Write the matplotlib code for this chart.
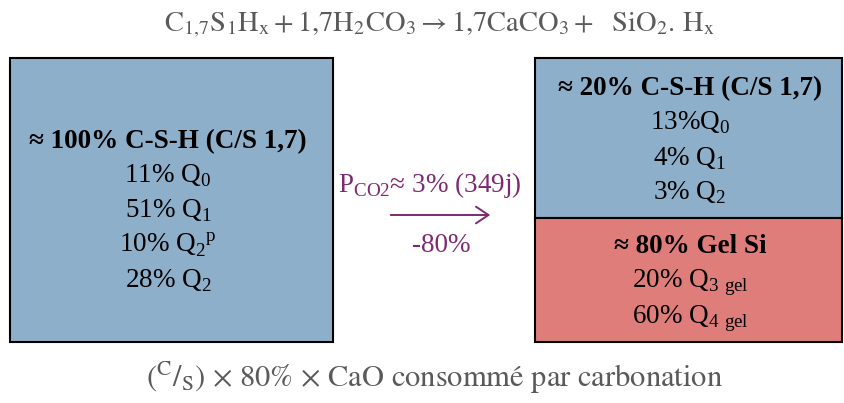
import matplotlib
matplotlib.use('Agg')
import matplotlib.pyplot as plt
from matplotlib.patches import Rectangle, FancyArrowPatch

plt.rcParams['mathtext.fontset'] = 'custom'
plt.rcParams['mathtext.rm'] = 'Liberation Serif'
plt.rcParams['mathtext.bf'] = 'Liberation Serif:bold'

# content
TOP_EQUATION = (r'$\mathrm{C_{1{,}7}S_1H_x + 1{,}7H_2CO_3 \rightarrow '
                r'1{,}7CaCO_3 +\ \ SiO_2.\,H_x}$')
BOTTOM_EQUATION = r'$\left(^{\mathrm{C}}/_{\mathrm{S}}\right)$ × 80% × CaO consommé par carbonation'

LEFT_TITLE = '≈ 100% C-S-H (C/S 1,7)'
LEFT_LINES = [r'11% Q$_0$', r'51% Q$_1$', r'10% Q$_2$$^\mathrm{p}$', r'28% Q$_2$']

RIGHT_TOP_TITLE = '≈ 20% C-S-H (C/S 1,7)'
RIGHT_TOP_LINES = [r'13%Q$_0$', r'4% Q$_1$', r'3% Q$_2$']

RIGHT_BOT_TITLE = '≈ 80% Gel Si'
RIGHT_BOT_LINES = [r'20% Q$_{\mathrm{3\ gel}}$', r'60% Q$_{\mathrm{4\ gel}}$']

ARROW_TOP = r'P$_{\mathrm{CO2}}$≈ 3% (349j)'
ARROW_BOTTOM = '-80%'

BLUE = '#8eafca'
RED = '#df7d7b'
PURPLE = '#7d2a72'
GREY = '#5a5a5a'
SERIF = 'Liberation Serif'
FS = 19.5

fig = plt.figure(figsize=(8.45, 4.03), dpi=100)
ax = fig.add_axes([0, 0, 1, 1])
ax.set_xlim(0, 845)
ax.set_ylim(403, 0)
ax.axis('off')

# boxes
ax.add_patch(Rectangle((10, 58), 323, 284, facecolor=BLUE, edgecolor='black', lw=1.5))
ax.add_patch(Rectangle((535, 58), 307, 160, facecolor=BLUE, edgecolor='black', lw=1.5))
ax.add_patch(Rectangle((535, 218), 307, 124, facecolor=RED, edgecolor='black', lw=1.5))


def block(x, y0, title, lines, step):
    # y0 = baseline of the bold title, lines follow at fixed baseline step
    ax.text(x, y0, title, ha='center', va='baseline', fontsize=FS,
            fontweight='bold', family=SERIF)
    for i, s in enumerate(lines):
        ax.text(x, y0 + step * (i + 1), s, ha='center', va='baseline',
                fontsize=FS, family=SERIF)


block(168, 148, LEFT_TITLE, LEFT_LINES, 34.8)
block(690, 95, RIGHT_TOP_TITLE, RIGHT_TOP_LINES, 35)
block(690, 253, RIGHT_BOT_TITLE, RIGHT_BOT_LINES, 35)

# arrow + labels
ax.text(430, 192, ARROW_TOP, ha='center', va='baseline', fontsize=FS,
        family=SERIF, color=PURPLE)
ax.add_patch(FancyArrowPatch((388, 215), (493, 215),
                             arrowstyle='->,head_length=9,head_width=6',
                             color=PURPLE, lw=1.4, mutation_scale=1))
ax.text(441, 252, ARROW_BOTTOM, ha='center', va='baseline', fontsize=FS,
        family=SERIF, color=PURPLE)

# equations
ax.text(439, 31, TOP_EQUATION, ha='center', va='baseline', fontsize=20.5,
        color=GREY, math_fontfamily='stix')
ax.text(434, 387, BOTTOM_EQUATION, ha='center', va='baseline', fontsize=22,
        color=GREY, family='STIXGeneral', math_fontfamily='stix')

fig.savefig('out.png', dpi=100)
